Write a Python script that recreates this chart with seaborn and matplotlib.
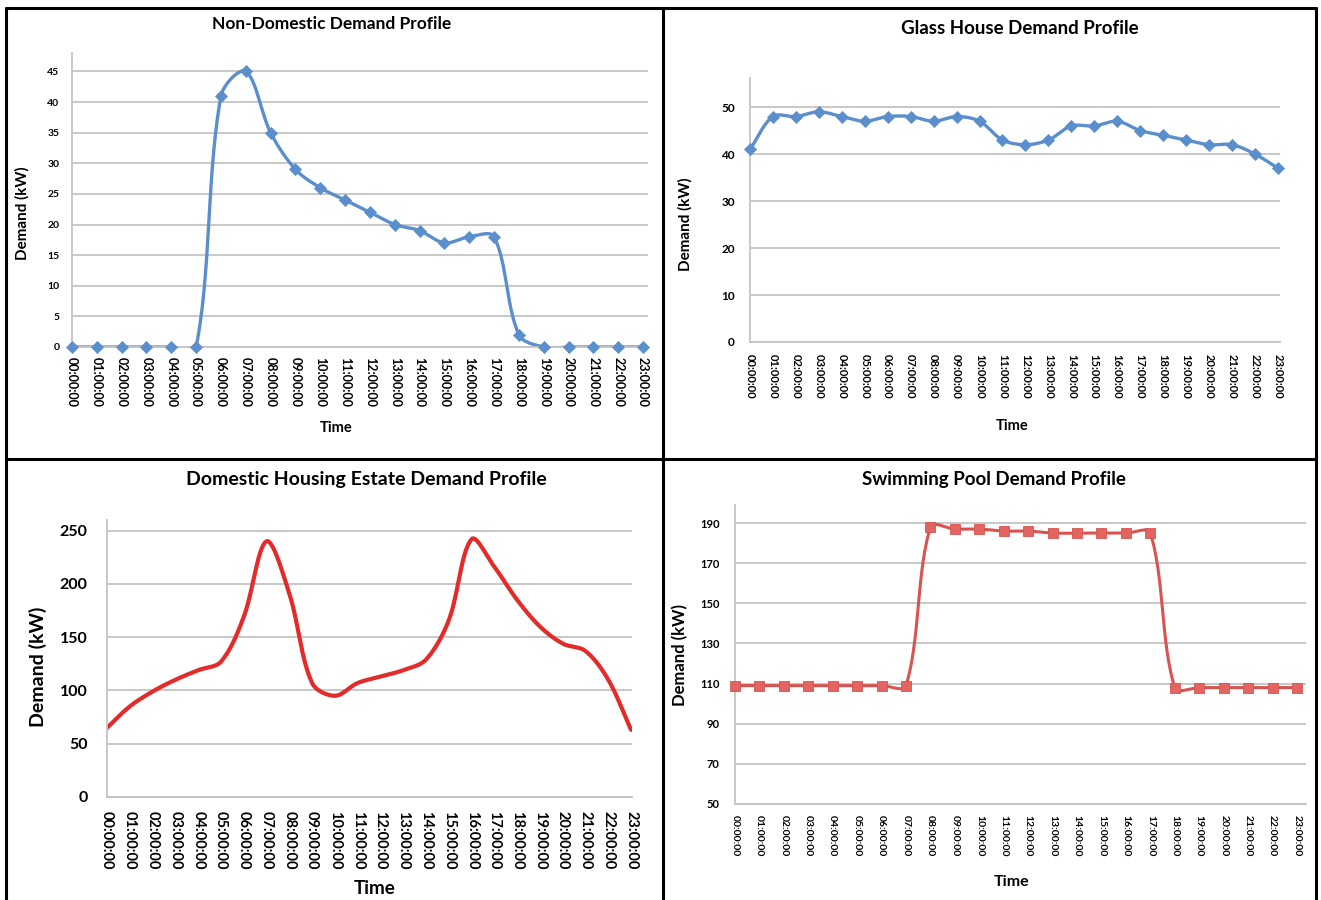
import numpy as np
import pandas as pd
import matplotlib
matplotlib.use("Agg")
import matplotlib.pyplot as plt
from matplotlib.lines import Line2D
import seaborn as sns

# ---- data ----------------------------------------------------------------
hour_labels = [f"{h:02d}:00:00" for h in range(24)]
hours = list(range(24))

non_domestic = [0, 0, 0, 0, 0, 0, 41, 45, 35, 29, 26, 24,
                22, 20, 19, 17, 18, 18, 2, 0, 0, 0, 0, 0]
glass_house = [41, 48, 48, 49, 48, 47, 48, 48, 47, 48, 47, 43,
               42, 43, 46, 46, 47, 45, 44, 43, 42, 42, 40, 37]
domestic = [65, 85, 99, 110, 119, 127, 169, 240, 191, 107, 95, 107,
            113, 119, 129, 166, 242, 216, 185, 160, 144, 137, 110, 63]
swimming_pool = [109, 109, 109, 109, 109, 109, 109, 109, 188, 187, 187, 186,
                 186, 185, 185, 185, 185, 185, 108, 108, 108, 108, 108, 108]

W, H = 1321, 900
sns.set_theme(style="white")
plt.rcParams["font.family"] = ["Lato", "DejaVu Sans"]
plt.rcParams["font.weight"] = "bold"

fig = plt.figure(figsize=(W / 100, H / 100), dpi=100)
fig.patch.set_facecolor("white")


def px_axes(left, right, top, bottom):
    return fig.add_axes([left / W, 1 - bottom / H, (right - left) / W, (bottom - top) / H])


def smooth_curve(xs, ys, sx, sy, n=30):
    """Smoothed line through the points: cubic Bezier segments whose handles
    follow the neighbour tangent, scaled by the adjacent chord lengths
    (measured in screen pixels, sx/sy = pixels per unit)."""
    x = np.asarray(xs, float)
    y = np.asarray(ys, float)
    P = np.column_stack([x * sx, y * sy])
    m = len(P)
    out_h = np.zeros_like(P)
    in_h = np.zeros_like(P)
    for i in range(m):
        prev = P[max(i - 1, 0)]
        nxt = P[min(i + 1, m - 1)]
        T = nxt - prev
        dp = np.hypot(*(P[i] - prev))
        dn = np.hypot(*(nxt - P[i]))
        tot = dp + dn
        if tot == 0:
            continue
        out_h[i] = T * (dn / tot) / 3
        in_h[i] = T * (dp / tot) / 3
    t = np.linspace(0, 1, n, endpoint=False)[:, None]
    segs = []
    for i in range(m - 1):
        p1, p2 = P[i], P[i + 1]
        c1 = p1 + out_h[i]
        c2 = p2 - in_h[i + 1]
        segs.append((1 - t) ** 3 * p1 + 3 * (1 - t) ** 2 * t * c1
                    + 3 * (1 - t) * t ** 2 * c2 + t ** 3 * p2)
    segs.append(P[-1:])
    out = np.vstack(segs)
    return pd.DataFrame({"hour": out[:, 0] / sx, "demand": out[:, 1] / sy})


def style_axes(ax, yticks, ylim, xmax, xfs, yfs, ypad, xpad, xtick_len=0):
    ax.set_xlim(0, xmax)
    ax.set_ylim(*ylim)
    ax.set_yticks(yticks)
    ax.set_yticklabels([str(v) for v in yticks], fontsize=yfs, fontweight="bold")
    ax.set_xticks(hours)
    ax.set_xticklabels(hour_labels, rotation=-90, ha="center", va="top",
                       fontsize=xfs, fontweight="bold")
    ax.tick_params(axis="y", length=0, pad=ypad, colors="black")
    ax.tick_params(axis="x", length=xtick_len, width=1, pad=xpad,
                   colors="black", direction="out")
    ax.tick_params(axis="x", color="#BFBFBF")
    ax.yaxis.grid(True, color="#C4C4C4", lw=1.3)
    ax.xaxis.grid(False)
    ax.set_axisbelow(True)
    for s in ("top", "right"):
        ax.spines[s].set_visible(False)
    for s in ("left", "bottom"):
        ax.spines[s].set_color("#C4C4C4")
        ax.spines[s].set_linewidth(1.3)
    ax.set_xlabel("")
    ax.set_ylabel("")


def text(x, y, s, size, rot=0):
    fig.text(x / W, 1 - y / H, s, ha="center", va="center", fontsize=size,
             fontweight="bold", rotation=rot, color="black")


blue = "#5A8ECD"
red = "#E42B2B"
pool_red = "#D9534F"

# ---- Non-domestic ---------------------------------------------------------
ax1 = px_axes(72, 648, 53, 347)
d1 = smooth_curve(hours, non_domestic, 24.8, 6.13)
sns.lineplot(data=d1, x="hour", y="demand", ax=ax1, color=blue, lw=2.4,
             estimator=None, sort=False)
sns.scatterplot(x=hours, y=non_domestic, ax=ax1, marker="D", s=38, color=blue,
                edgecolor=blue, linewidth=0.5, clip_on=False, zorder=4)
style_axes(ax1, list(range(0, 50, 5)), (0, 48), 23.2, 9, 7.5, 9, 7)
text(332, 24, "Non-Domestic Demand Profile", 12.5)
text(22, 213, "Demand (kW)", 11, 90)
text(336, 428, "Time", 10.5)

# ---- Glass house ----------------------------------------------------------
ax2 = px_axes(750, 1280, 78, 342)
d2 = smooth_curve(hours, glass_house, 22.96, 4.7)
sns.lineplot(data=d2, x="hour", y="demand", ax=ax2, color=blue, lw=2.4,
             estimator=None, sort=False)
sns.scatterplot(x=hours, y=glass_house, ax=ax2, marker="D", s=38, color=blue,
                edgecolor=blue, linewidth=0.5, clip_on=False, zorder=4)
style_axes(ax2, list(range(0, 60, 10)), (0, 56.2), 23.09, 8, 8.5, 11, 9)
text(1020, 29, "Glass House Demand Profile", 13.5)
text(685, 224, "Demand (kW)", 11, 90)
text(1012, 426, "Time", 10.5)

# ---- Domestic housing estate ---------------------------------------------
ax3 = px_axes(107, 632, 520, 797)
d3 = smooth_curve(hours, domestic, 22.78, 1.067)
sns.lineplot(data=d3, x="hour", y="demand", ax=ax3, color=red, lw=3.0,
             estimator=None, sort=False)
style_axes(ax3, list(range(0, 300, 50)), (0, 260), 23.04, 10.5, 11.5, 14, 6,
           xtick_len=4)
text(366, 479, "Domestic Housing Estate Demand Profile", 14)
text(38, 667, "Demand (kW)", 14, 90)
text(375, 888, "Time", 13.5)

# ---- Swimming pool --------------------------------------------------------
ax4 = px_axes(735, 1306, 505, 804)
d4 = smooth_curve(hours, swimming_pool, 24.43, 2.007)
sns.lineplot(data=d4, x="hour", y="demand", ax=ax4, color=pool_red, lw=2.2,
             estimator=None, sort=False)
sns.scatterplot(x=hours, y=swimming_pool, ax=ax4, marker="s", s=60,
                color="#E26562", edgecolor="#D9534F", linewidth=0.6,
                clip_on=False, zorder=4)
style_axes(ax4, list(range(50, 200, 20)), (50, 199), 23.37, 7.5, 8, 11, 8)
text(994, 480, "Swimming Pool Demand Profile", 13.5)
text(680, 655, "Demand (kW)", 12, 90)
text(1012, 882, "Time", 11.5)

# ---- panel frames ---------------------------------------------------------
frame = dict(color="black", lw=2.2, transform=fig.transFigure)
for x in (6, 663, 1316):
    fig.add_artist(Line2D([x / W, x / W], [0, 1 - 8 / H], **frame))
for y in (8, 459):
    fig.add_artist(Line2D([6 / W, 1316 / W], [1 - y / H, 1 - y / H], **frame))

fig.savefig("out.png", dpi=100, facecolor="white")
